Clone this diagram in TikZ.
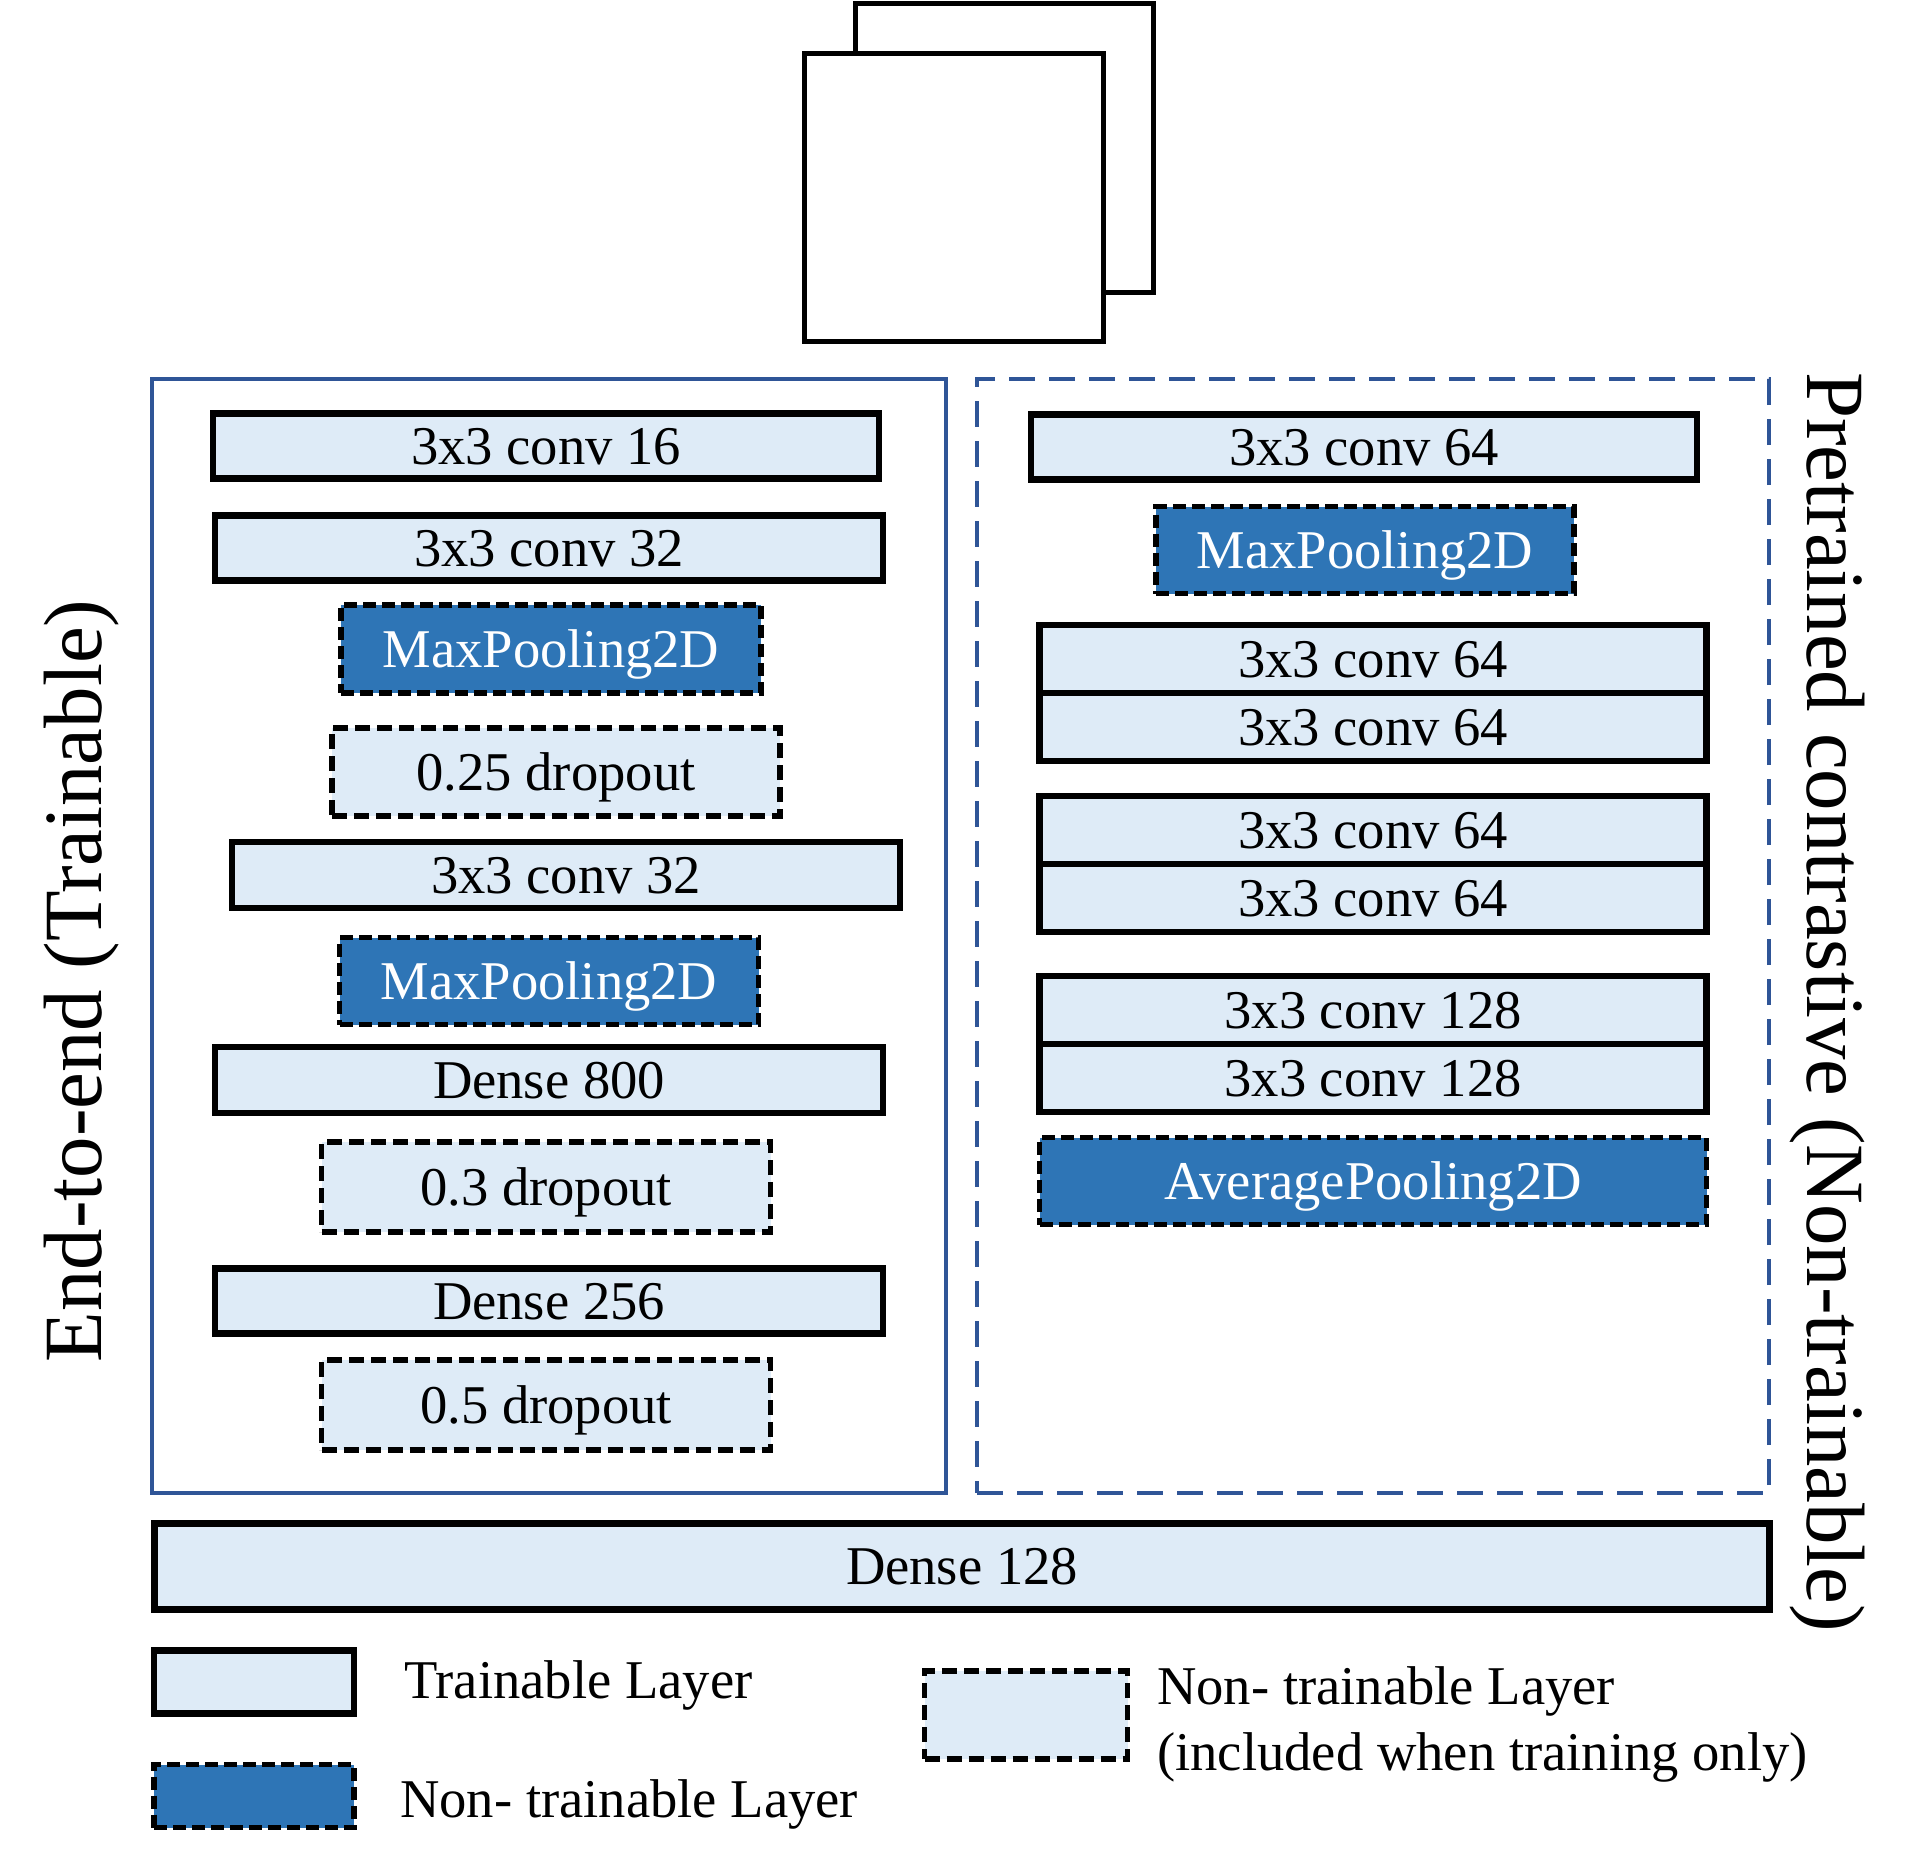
\documentclass[tikz,border=0pt]{standalone}
\usepackage{fontspec}
\setmainfont{Liberation Serif}
\definecolor{lightfill}{HTML}{DEEBF7}
\definecolor{darkfill}{HTML}{2E75B6}
\definecolor{frameblue}{HTML}{2F5597}
\newcommand{\boxfont}{\fontsize{54.6}{62}\selectfont}
\newcommand{\bigfont}{\fontsize{82.8}{90}\selectfont}
\begin{document}
\begin{tikzpicture}[x=1pt,y=-1pt,
  trn/.style={draw=black, line width=6.5pt, fill=lightfill, font=\boxfont, inner sep=0pt, text height=37pt, text depth=0pt},
  frz/.style={draw=black, line width=5.5pt, dash pattern=on 13pt off 6pt, fill=darkfill, text=white, font=\boxfont, inner sep=0pt, text height=37pt, text depth=0pt},
  drp/.style={draw=black, line width=5.5pt, dash pattern=on 15pt off 7pt, fill=lightfill, font=\boxfont, inner sep=0pt, text height=37pt, text depth=0pt},
  imgsq/.style={draw=black, line width=5pt, fill=white},
  frame/.style={draw=frameblue, line width=3.7pt},
  lbl/.style={font=\boxfont, inner sep=0pt, anchor=west, text height=37pt, text depth=0pt},
  vlabel/.style={font=\bigfont, inner sep=0pt}]
\useasboundingbox (0,0) rectangle (1910,1863);
% input images
\node[imgsq, minimum width=298pt, minimum height=289pt] (img2) at (1004,148) {};
\node[imgsq, minimum width=299pt, minimum height=288pt] (img1) at (954,197) {};
% containers
\node[frame, minimum width=794pt, minimum height=1114pt] (leftframe) at (549,936) {};
\node[frame, dash pattern=on 26pt off 14pt, minimum width=792pt, minimum height=1114pt] (rightframe) at (1373,936) {};
% left column
\node[trn, minimum width=666pt, minimum height=65pt] (l1) at (546,446) {3x3 conv 16};
\node[trn, minimum width=668pt, minimum height=65pt] (l2) at (549,548) {3x3 conv 32};
\node[frz, minimum width=420pt, minimum height=88pt] (l3) at (551,649) {MaxPooling2D};
\node[drp, minimum width=448pt, minimum height=88pt] (l4) at (556,772) {0.25 dropout};
\node[trn, minimum width=668pt, minimum height=66pt] (l5) at (566,875) {3x3 conv 32};
\node[frz, minimum width=419pt, minimum height=87pt] (l6) at (549,981) {MaxPooling2D};
\node[trn, minimum width=668pt, minimum height=66pt] (l7) at (549,1080) {Dense 800};
\node[drp, minimum width=449pt, minimum height=90pt] (l8) at (546,1187) {0.3 dropout};
\node[trn, minimum width=668pt, minimum height=65pt] (l9) at (549,1301) {Dense 256};
\node[drp, minimum width=449pt, minimum height=90pt] (l10) at (546,1405) {0.5 dropout};
% right column
\node[trn, minimum width=666pt, minimum height=65pt] (r1) at (1364,447) {3x3 conv 64};
\node[frz, minimum width=418pt, minimum height=87pt] (r2) at (1365,550) {MaxPooling2D};
\node[trn, minimum width=667pt, minimum height=68pt] (r3a) at (1373,659) {3x3 conv 64};
\node[trn, minimum width=667pt, minimum height=68pt] (r3b) at (1373,727) {3x3 conv 64};
\node[trn, minimum width=667pt, minimum height=68pt] (r4a) at (1373,830) {3x3 conv 64};
\node[trn, minimum width=667pt, minimum height=68pt] (r4b) at (1373,898) {3x3 conv 64};
\node[trn, minimum width=667pt, minimum height=68pt] (r5a) at (1373,1010) {3x3 conv 128};
\node[trn, minimum width=667pt, minimum height=68pt] (r5b) at (1373,1078) {3x3 conv 128};
\node[frz, minimum width=667pt, minimum height=87pt] (r6) at (1373,1181) {AveragePooling2D};
% dense 128
\node[trn, line width=7pt, minimum width=1615pt, minimum height=86pt] (d128) at (962,1566) {Dense 128};
% side labels
\node[vlabel, rotate=90] (lefttitle) at (82,981) {End-to-end (Trainable)};
\node[vlabel, rotate=-90] (righttitle) at (1827,1002) {Pretrained contrastive (Non-trainable)};
% legend
\node[trn, minimum width=200pt, minimum height=63pt] (leg1) at (254,1682) {};
\node[lbl] (leg1t) at (404,1680) {Trainable Layer};
\node[frz, minimum width=200pt, minimum height=63pt] (leg2) at (254,1796) {};
\node[lbl] (leg2t) at (400,1799) {Non- trainable Layer};
\node[drp, minimum width=203pt, minimum height=88pt] (leg3) at (1026,1715) {};
\node[lbl] (leg3t) at (1157,1686) {Non- trainable Layer};
\node[lbl] (leg3u) at (1157,1752) {(included when training only)};
\end{tikzpicture}
\end{document}
